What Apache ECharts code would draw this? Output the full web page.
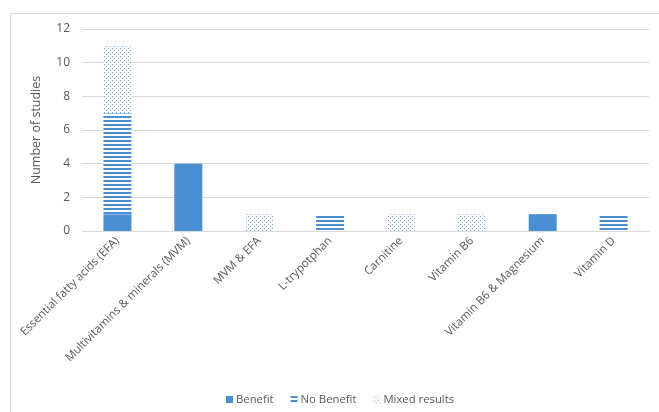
<!DOCTYPE html>
<html><head><meta charset="utf-8">
<script src="https://cdn.jsdelivr.net/npm/echarts@6/dist/echarts.min.js"></script>
<style>html,body{margin:0;padding:0;background:#fff}#c{width:659px;height:412px}</style>
</head><body><div id="c"></div>
<script>
const categories = ["Essential fatty acids (EFA)", "Multivitamins & minerals (MVM)", "MVM & EFA", "L-trypotphan", "Carnitine", "Vitamin B6", "Vitamin B6 & Magnesium", "Vitamin D"];
const benefit = [1, 4, 0, 0, 0, 0, 1, 0];
const noBenefit = [6, 0, 0, 1, 0, 0, 0, 1];
const mixed = [4, 0, 1, 0, 1, 1, 0, 0];
const yTicks = [0, 2, 4, 6, 8, 10, 12];

const BLUE = '#4a8fd1';
function stripePattern() {
  const c = document.createElement('canvas'); c.width = 4; c.height = 4;
  const g = c.getContext('2d');
  g.fillStyle = '#ffffff'; g.fillRect(0, 0, 4, 4);
  g.fillStyle = BLUE; g.fillRect(0, 0, 4, 2);
  return { image: c, repeat: 'repeat' };
}
function dotPattern() {
  const c = document.createElement('canvas'); c.width = 4; c.height = 4;
  const g = c.getContext('2d');
  g.fillStyle = '#ffffff'; g.fillRect(0, 0, 4, 4);
  g.fillStyle = '#6ea7e0'; g.fillRect(0, 0, 1, 1); g.fillRect(2, 2, 1, 1);
  return { image: c, repeat: 'repeat' };
}
const chart = echarts.init(document.getElementById('c'), null, {renderer: 'canvas'});
const font = '"Open Sans", sans-serif';
const toData = arr => arr.map(v => v === 0 ? '-' : v);
chart.setOption({
  animation: false,
  backgroundColor: '#fff',
  graphic: [{type: 'rect', shape: {x: 10.5, y: 13.5, width: 660, height: 420}, style: {fill: 'none', stroke: '#d9d9d9', lineWidth: 1}, silent: true}],
  grid: {left: 82, right: 10, top: 29, bottom: 181, containLabel: false},
  legend: {
    bottom: 2, left: 221, itemWidth: 7, itemHeight: 7, itemGap: 17,
    icon: 'rect',
    textStyle: {color: '#595959', fontFamily: font, fontSize: 11.3, padding: [0, 0, 0, -2]},
    data: ['Benefit', 'No Benefit', 'Mixed results']
  },
  xAxis: {
    type: 'category', data: categories,
    axisLine: {lineStyle: {color: '#d9d9d9'}},
    axisTick: {show: false},
    axisLabel: {rotate: 45, interval: 0, color: '#595959', fontFamily: font, fontSize: 11.5, margin: 8}
  },
  yAxis: {
    type: 'value', min: yTicks[0], max: yTicks[yTicks.length - 1], interval: 2,
    name: 'Number of studies', nameLocation: 'middle', nameGap: 39,
    nameTextStyle: {color: '#595959', fontFamily: font, fontSize: 12.5},
    axisLine: {show: false}, axisTick: {show: false},
    axisLabel: {color: '#595959', fontFamily: font, fontSize: 12, margin: 12},
    splitLine: {lineStyle: {color: '#d9d9d9'}}
  },
  series: [
    {name: 'Benefit', type: 'bar', stack: 's', barWidth: 28, data: toData(benefit), itemStyle: {color: BLUE}},
    {name: 'No Benefit', type: 'bar', stack: 's', barWidth: 28, data: toData(noBenefit), itemStyle: {color: stripePattern()}},
    {name: 'Mixed results', type: 'bar', stack: 's', barWidth: 28, data: toData(mixed), itemStyle: {color: dotPattern()}}
  ]
});
</script></body></html>
